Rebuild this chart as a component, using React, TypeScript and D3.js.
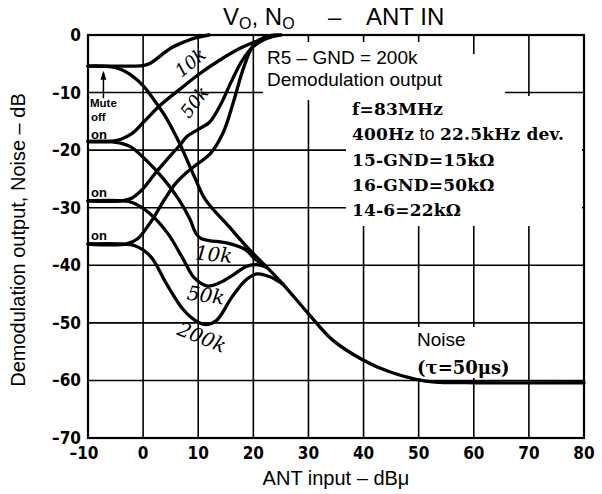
import React from "react";
import * as d3 from "d3";

const xTicks = [-10, 0, 10, 20, 30, 40, 50, 60, 70, 80];
const yTicks = [0, -10, -20, -30, -40, -50, -60, -70];
const xGrid = [0, 10, 20, 30, 40, 50, 60, 70];
const yGrid = [-10, -20, -30, -40, -50, -60];

// Demodulation output curves (rising)
const sigMuteOff: [number, number][] = [[-10, -5.4], [-2, -5.4], [0, -5.3], [1.3, -4.9], [2.5, -4.1], [3.7, -3.2], [5, -2.3], [6.7, -1.5], [9.5, -0.5], [12, 0]];
const sig10k: [number, number][] = [[-10, -18.5], [-6, -18.5], [-4, -18.1], [-2, -17.1], [0, -15.2], [3.1, -12.2], [6.7, -9.4], [10, -6.9], [14, -4.3], [17.6, -2.3], [20, -1.3], [23, -0.3], [25, 0]];
const sig50k: [number, number][] = [[-10, -28.8], [-4, -28.8], [-2, -28.3], [0, -26.7], [1.4, -25], [3.1, -23], [5, -20.9], [6.7, -19.1], [8, -17.6], [10, -16.4], [12, -15.2], [14, -12.2], [16, -8.1], [18, -4.4], [20, -2], [22, -0.8], [24.5, 0]];
const sig200k: [number, number][] = [[-10, -36.3], [-3, -36.3], [-1, -35.4], [1, -33], [2.3, -31.1], [4, -28.4], [5.8, -25.9], [8, -23.8], [10, -22.3], [12.2, -20.6], [14.6, -16.8], [16.4, -11.6], [18.2, -5.8], [20, -1.8], [22, -0.4], [24, 0]];

// Noise curves (falling)
const noiseMuteOff: [number, number][] = [[-10, -5.4], [-6, -5.5], [-4, -6.0], [-2.3, -6.9], [0, -8.8], [1.4, -10.5], [4, -14.1], [6.5, -18.6], [9.3, -24.6], [11.3, -28.6], [15.6, -33.3], [19.3, -37.3], [22.3, -40.2], [25.4, -43.3], [29.9, -48.3], [34.4, -53], [39.8, -56.4], [44.7, -58.5], [49.5, -59.8], [53, -60.3], [60, -60.4], [80, -60.4]];
const noise10k: [number, number][] = [[-10, -18.5], [-6, -18.5], [-4, -18.8], [-2.3, -19.4], [0.5, -21.7], [3.7, -25], [6.5, -28.6], [8.5, -32], [9.6, -34.5], [10.6, -35.4], [12, -35.7], [15.5, -36.2], [18.6, -37.3], [20.4, -39], [22.3, -40.3]];
const noise50k: [number, number][] = [[-10, -28.8], [-4, -28.8], [-2, -29.1], [1.2, -31], [4.5, -34.5], [7.2, -38.8], [9.3, -42.2], [11.7, -43.6], [14, -43], [16.3, -41.7], [18.7, -40.2], [20.5, -39.9], [22.3, -40.3]];
const noise200k: [number, number][] = [[-10, -36.3], [-4, -36.3], [-1.5, -36.6], [1.3, -38.4], [4.3, -43.3], [7.2, -47.6], [9.5, -49.6], [11.5, -50.3], [13.3, -49.6], [16.2, -45.4], [18.7, -42.5], [20.7, -41.5], [23, -42], [25.4, -43.3]];

const curves = [sigMuteOff, sig10k, sig50k, sig200k, noiseMuteOff, noise10k, noise50k, noise200k];

const conditions = ["f=83MHz", "400Hz to 22.5kHz dev.", "15-GND=15kΩ", "16-GND=50kΩ", "14-6=22kΩ"];

const W = 602, H = 494;
const x = d3.scaleLinear().domain([-10, 80]).range([88, 584]);
const y = d3.scaleLinear().domain([-70, 0]).range([438, 35]);

const line = d3.line<[number, number]>().x(d => x(d[0])).y(d => y(d[1])).curve(d3.curveCatmullRom.alpha(0.5));

const tickFont = "'DejaVu Sans Condensed', 'DejaVu Sans', sans-serif";
const sans = "'Liberation Sans', Arial, sans-serif";
const serif = "'DejaVu Serif', serif";

function Cond({ t, yy }: { t: string; yy: number }) {
  const parts = t.split(" to ");
  if (parts.length === 2) {
    return (
      <text x={352} y={yy} fontFamily={serif} fontWeight="bold" fontSize={17} letterSpacing={0.2}>
        {parts[0]}
        <tspan fontFamily={sans} fontWeight="normal" fontSize={18}>{" to "}</tspan>
        {parts[1]}
      </text>
    );
  }
  return (
    <text x={352} y={yy} fontFamily={serif} fontWeight="bold" fontSize={17} letterSpacing={0.2}>{t}</text>
  );
}

export default function App() {
  const fmt = (v: number) => (v < 0 ? "–" + Math.abs(v) : String(v));
  return (
    <svg width={W} height={H} style={{ position: "absolute", left: 0, top: 0, background: "#fff" }}>
      <rect x={0} y={0} width={W} height={H} fill="#fff" />
      {/* grid */}
      {xGrid.map(v => (
        <line key={"gx" + v} x1={x(v)} x2={x(v)} y1={y(0)} y2={y(-70)} stroke="#000" strokeWidth={1.6} />
      ))}
      {yGrid.map(v => (
        <line key={"gy" + v} x1={x(-10)} x2={x(80)} y1={y(v)} y2={y(v)} stroke="#000" strokeWidth={1.6} />
      ))}
      {/* white boxes behind annotation text */}
      <rect x={263} y={42} width={202} height={58} fill="#fff" />
      <rect x={465} y={54} width={40} height={46} fill="#fff" />
      <rect x={346} y={96} width={236} height={130} fill="#fff" />
      <rect x={412} y={327} width={104} height={51} fill="#fff" />
      {/* frame */}
      <rect x={x(-10)} y={y(0)} width={x(80) - x(-10)} height={y(-70) - y(0)} fill="none" stroke="#000" strokeWidth={2.2} />
      {/* curves */}
      {curves.map((c, i) => (
        <path key={"c" + i} d={line(c) || ""} fill="none" stroke="#000" strokeWidth={3.3} strokeLinejoin="round" strokeLinecap="round" />
      ))}
      {/* x tick labels */}
      {xTicks.map(v => (
        <text key={"xt" + v} x={x(v) - (v < 0 ? 4 : 0)} y={459} textAnchor="middle" fontFamily={tickFont} fontWeight="bold" fontSize={17}>
          {fmt(v)}
        </text>
      ))}
      {yTicks.map(v => (
        <text key={"yt" + v} x={81} y={y(v) + 6} textAnchor="end" fontFamily={tickFont} fontWeight="bold" fontSize={17}>
          {fmt(v)}
        </text>
      ))}
      {/* title */}
      <text x={223} y={25} fontFamily={sans} fontSize={24}>
        V<tspan fontSize={16} dy={4}>O</tspan>
        <tspan dy={-4}>, N</tspan>
        <tspan fontSize={16} dy={4}>O</tspan>
        <tspan dy={-4} x={328}>–</tspan>
        <tspan x={366}>ANT IN</tspan>
      </text>
      {/* axis labels */}
      <text x={336} y={485} textAnchor="middle" fontFamily={sans} fontSize={20}>ANT input – dBμ</text>
      <text transform="translate(25,240) rotate(-90)" textAnchor="middle" fontFamily={sans} fontSize={20}>
        Demodulation output, Noise – dB
      </text>
      {/* annotations */}
      <text x={267} y={64} fontFamily={sans} fontSize={19}>R5 – GND = 200k</text>
      <text x={267} y={86} fontFamily={sans} fontSize={19}>Demodulation output</text>
      {conditions.map((t, i) => (
        <Cond key={"cd" + i} t={t} yy={115 + i * 25.3} />
      ))}
      <text x={417} y={346} fontFamily={sans} fontSize={19}>Noise</text>
      <text x={417} y={374} fontFamily={serif} fontWeight="bold" fontSize={18}>(τ=50μs)</text>
      {/* curve labels */}
      <text transform={`translate(${x(9.3)},${y(-5.6)}) rotate(-40)`} textAnchor="middle" fontFamily={serif} fontStyle="italic" fontSize={18}>10k</text>
      <text transform={`translate(${x(10.2)},${y(-12.3)}) rotate(-52)`} textAnchor="middle" fontFamily={serif} fontStyle="italic" fontSize={18}>50k</text>
      <text transform={`translate(${x(12.7)},${y(-39.3)}) rotate(5)`} textAnchor="middle" fontFamily={serif} fontStyle="italic" fontSize={20}>10k</text>
      <text transform={`translate(${x(11.2)},${y(-46.4)}) rotate(8)`} textAnchor="middle" fontFamily={serif} fontStyle="italic" fontSize={20}>50k</text>
      <text transform={`translate(${x(10.2)},${y(-53.6)}) rotate(22)`} textAnchor="middle" fontFamily={serif} fontStyle="italic" fontSize={20}>200k</text>
      {/* Mute off / on labels */}
      <line x1={x(-7.2)} x2={x(-7.2)} y1={y(-11.0)} y2={y(-6.6)} stroke="#000" strokeWidth={1.5} />
      <path d={`M${x(-7.2)},${y(-6.2)} l-3,9 l6,0 z`} fill="#000" />
      <text x={90} y={107} fontFamily={sans} fontWeight="bold" fontSize={11.5}>Mute</text>
      <text x={91} y={121} fontFamily={sans} fontWeight="bold" fontSize={11.5}>off</text>
      <text x={91} y={139} fontFamily={sans} fontWeight="bold" fontSize={13}>on</text>
      <text x={91} y={197} fontFamily={sans} fontWeight="bold" fontSize={13}>on</text>
      <text x={91} y={240} fontFamily={sans} fontWeight="bold" fontSize={13}>on</text>
    </svg>
  );
}
